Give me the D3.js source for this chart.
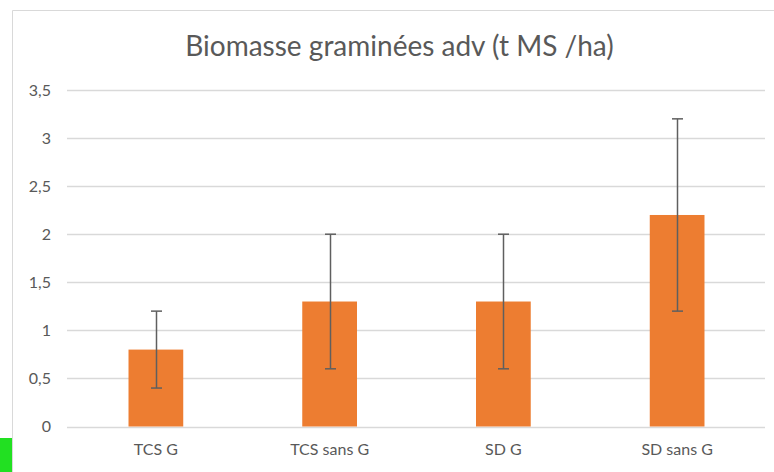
<!DOCTYPE html>
<html><head><meta charset="utf-8">
<script src="https://cdn.jsdelivr.net/npm/d3@7"></script>
<style>html,body{margin:0;padding:0;background:#fff;overflow:hidden}svg{display:block}</style>
</head><body>
<script>
const categories = ["TCS G", "TCS sans G", "SD G", "SD sans G"];
const values = [0.8, 1.3, 1.3, 2.2];
const errLow = [0.4, 0.6, 0.6, 1.2];
const errHigh = [1.2, 2.0, 2.0, 3.2];
const yTicks = [0, 0.5, 1, 1.5, 2, 2.5, 3, 3.5];
const title = "Biomasse graminées adv (t MS /ha)";

const W = 774, H = 472;
const svg = d3.select("body").append("svg").attr("width", W).attr("height", H);
svg.append("rect").attr("width", W).attr("height", H).attr("fill", "#fff");

// chart border
svg.append("path").attr("d", `M12.5,${H} V10.5 H${W}`).attr("fill", "none").attr("stroke", "#d9d9d9").attr("stroke-width", 1);
// green marker bottom-left
svg.append("rect").attr("x", 0).attr("y", 438).attr("width", 12).attr("height", 34).attr("fill", "#22e022");

const x = d3.scaleBand().domain(categories).range([69, 764]).paddingInner(0.685).paddingOuter(0.3425);
const y = d3.scaleLinear().domain([0, 3.5]).range([426.5, 90]);

const font = "Lato, 'Open Sans', sans-serif";

// gridlines
svg.append("g").selectAll("line").data(yTicks).join("line")
  .attr("x1", 67).attr("x2", 765)
  .attr("y1", d => Math.round(y(d)) + 0.5).attr("y2", d => Math.round(y(d)) + 0.5)
  .attr("stroke", "#d9d9d9").attr("stroke-width", 1.3);

// y axis labels
const fmt = d => String(d).replace(".", ",");
const yAxis = d3.axisLeft(y).tickValues(yTicks).tickFormat(fmt).tickSize(0).tickPadding(0);
const gy = svg.append("g").attr("transform", "translate(51,0)").call(yAxis);
gy.select(".domain").remove();
gy.selectAll("text").attr("fill", "#595959").style("font-family", font).style("font-size", "16px");

// bars
svg.append("g").selectAll("rect").data(categories).join("rect")
  .attr("x", d => x(d)).attr("width", x.bandwidth())
  .attr("y", (d, i) => y(values[i])).attr("height", (d, i) => y(0) - y(values[i]))
  .attr("fill", "#ED7D31");

// error bars
const eg = svg.append("g").attr("stroke", "#5f5f5f").attr("stroke-width", 1.5);
categories.forEach((c, i) => {
  const cx = Math.round(x(c) + x.bandwidth() / 2) + 0.5;
  eg.append("line").attr("x1", cx).attr("x2", cx).attr("y1", y(errLow[i])).attr("y2", y(errHigh[i]));
  eg.append("line").attr("x1", cx - 5.5).attr("x2", cx + 5.5).attr("y1", y(errLow[i])).attr("y2", y(errLow[i]));
  eg.append("line").attr("x1", cx - 5.5).attr("x2", cx + 5.5).attr("y1", y(errHigh[i])).attr("y2", y(errHigh[i]));
});

// x axis labels
const xAxis = d3.axisBottom(x).tickSize(0).tickPadding(0);
const gx = svg.append("g").attr("transform", "translate(0,444)").call(xAxis);
gx.select(".domain").remove();
gx.selectAll("text").attr("fill", "#595959").attr("dy", "0.71em").style("font-family", font).style("font-size", "16px");

// title
svg.append("text").attr("x", 399.5).attr("y", 56).attr("text-anchor", "middle")
  .attr("fill", "#595959").style("font-family", font).style("font-size", "28px").text(title);
</script>
</body></html>
